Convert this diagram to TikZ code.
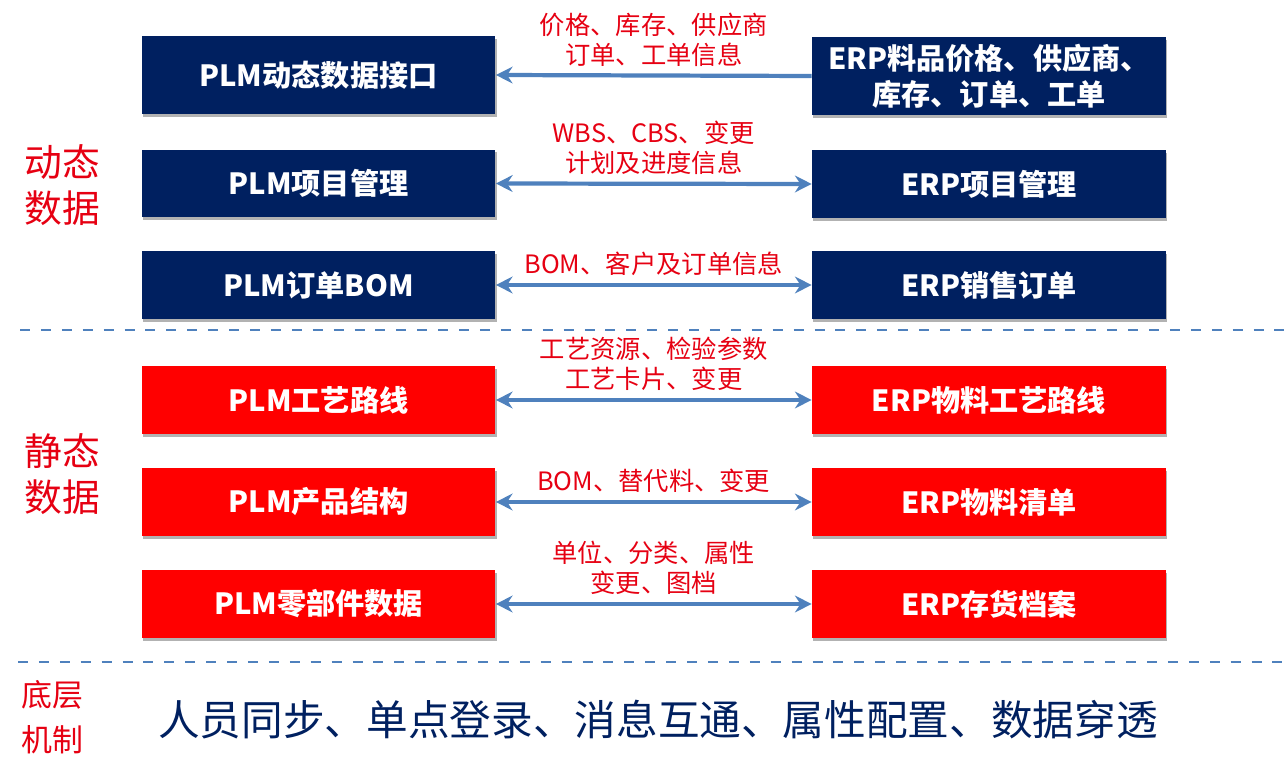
\documentclass[tikz,border=0pt]{standalone}
\usepackage{fontspec}
\setmainfont{Noto Sans CJK SC}
\usetikzlibrary{arrows.meta,shadows}

\definecolor{plmnavy}{RGB}{0,32,96}
\definecolor{plmred}{RGB}{255,0,0}
\definecolor{linkblue}{RGB}{79,129,189}
\definecolor{notered}{RGB}{230,0,18}

\tikzset{
  sysbox/.style={minimum width=7.08cm, minimum height=1.36cm, inner sep=0pt,
    text=white, align=center, font=\fontsize{16.6}{20.4}\selectfont\bfseries,
    drop shadow={shadow xshift=0.6pt, shadow yshift=-1.6pt, opacity=0.3, fill=black}},
  dynbox/.style={sysbox, fill=plmnavy},
  statbox/.style={sysbox, fill=plmred},
  link/.style={draw=linkblue, line width=2.4pt},
  note/.style={text=notered, align=center, inner sep=1pt, above=3pt,
    font=\fontsize{14.4}{17}\selectfont},
  side/.style={text=notered, align=center, font=\fontsize{21.5}{26}\selectfont},
  divider/.style={linkblue, line width=1.7pt, dash pattern=on 5.7pt off 6.2pt}
}

\begin{document}
\begin{tikzpicture}[x=0.02cm, y=-0.02cm, >={Stealth[length=9.5pt, width=9.5pt]}]
    \useasboundingbox (0,0) rectangle (1288,783);

    % Dynamic data
    \node[dynbox, minimum height=1.56cm] (plmdyn) at (318.5,75) {PLM动态数据接口};
    \node[dynbox, minimum height=1.56cm] (erpprice) at (989,76) {ERP料品价格、供应商、\\库存、订单、工单};
    \draw[link, ->] (erpprice.west) -- (plmdyn.east) node[midway, note] {价格、库存、供应商\\订单、工单信息};

    \node[dynbox] (plmproj) at (318.5,183.5) {PLM项目管理};
    \node[dynbox] (erpproj) at (989,184) {ERP项目管理};
    \draw[link, <->] (plmproj.east) -- (erpproj.west) node[midway, note] {WBS、CBS、变更\\计划及进度信息};

    \node[dynbox] (plmorder) at (318.5,285) {PLM订单BOM};
    \node[dynbox] (erpsales) at (989,285) {ERP销售订单};
    \draw[link, <->] (plmorder.east) -- (erpsales.west) node[midway, note] {BOM、客户及订单信息};

    \node[side] (dynlabel) at (62,185) {动态\\数据};

    % Divider lines
    \draw[divider] (20,330) -- (1288,330);
    \draw[divider] (18,662) -- (1288,662);

    % Static data
    \node[statbox] (plmroute) at (318.5,400) {PLM工艺路线};
    \node[statbox] (erproute) at (989,400) {ERP物料工艺路线};
    \draw[link, <->] (plmroute.east) -- (erproute.west) node[midway, note] {工艺资源、检验参数\\工艺卡片、变更};

    \node[statbox] (plmprod) at (318.5,502) {PLM产品结构};
    \node[statbox] (erpbom) at (989,502) {ERP物料清单};
    \draw[link, <->] (plmprod.east) -- (erpbom.west) node[midway, note] {BOM、替代料、变更};

    \node[statbox] (plmpart) at (318.5,604) {PLM零部件数据};
    \node[statbox] (erpstock) at (989,604) {ERP存货档案};
    \draw[link, <->] (plmpart.east) -- (erpstock.west) node[midway, note] {单位、分类、属性\\变更、图档};

    \node[side] (statlabel) at (62,474) {静态\\数据};

    % Base mechanism
    \node[side, font=\fontsize{17.6}{25.5}\selectfont] (baselabel) at (52,717) {底层\\机制};
    \node[text=plmnavy, font=\fontsize{23.7}{28}\selectfont] (base) at (658,720) {人员同步、单点登录、消息互通、属性配置、数据穿透};
\end{tikzpicture}
\end{document}
